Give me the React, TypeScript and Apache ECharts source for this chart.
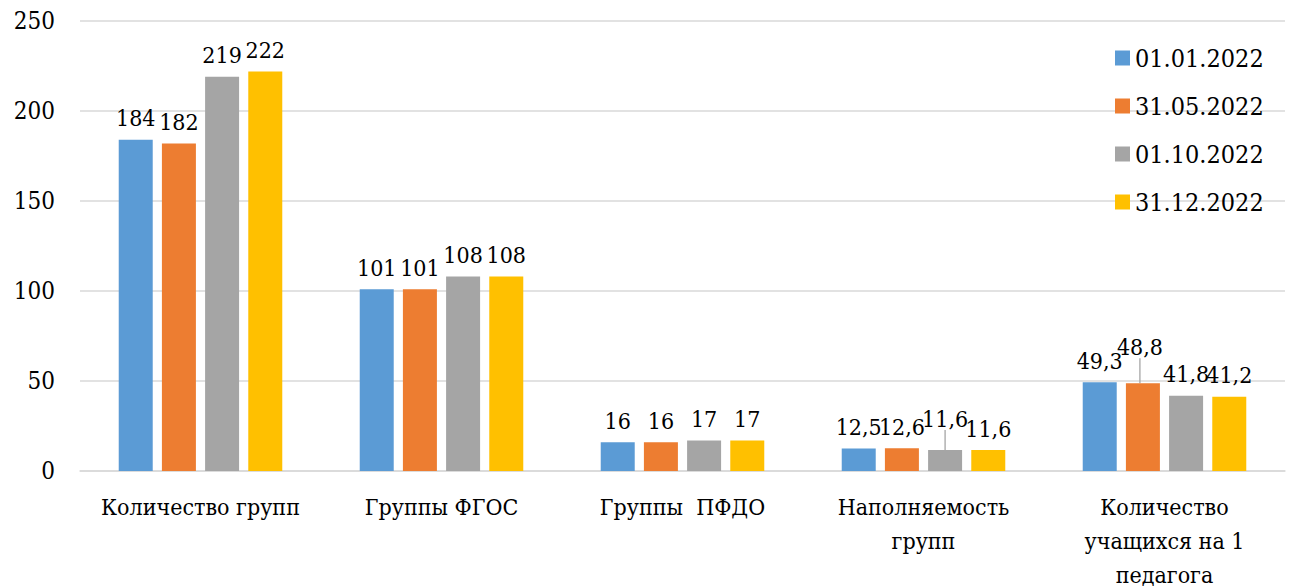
import React, { useEffect, useRef } from "react";
import * as echarts from "echarts";

const categories = [
  "Количество групп",
  "Группы ФГОС",
  "Группы  ПФДО",
  "Наполняемость\nгрупп",
  "Количество\nучащихся на 1\nпедагога",
];
const seriesNames = ["01.01.2022", "31.05.2022", "01.10.2022", "31.12.2022"];
const values0101 = [184, 101, 16, 12.5, 49.3];
const values3105 = [182, 101, 16, 12.6, 48.8];
const values0110 = [219, 108, 17, 11.6, 41.8];
const values3112 = [222, 108, 17, 11.6, 41.2];
const yTicks = { min: 0, max: 250, interval: 50 };

const colors = ["#5b9bd5", "#ed7d31", "#a5a5a5", "#ffc000"];
const FONT = "DejaVu Serif Condensed";

// labels shifted (with leader line) in the original: [seriesIndex, dataIndex, dx, dy]
const shifted: [number, number, number, number][] = [
  [1, 4, -3, -15],
  [2, 3, 0, -10],
];

export default function App() {
  const ref = useRef<HTMLDivElement>(null);
  useEffect(() => {
    if (!ref.current) return;
    const chart = echarts.init(ref.current, undefined, { renderer: "svg" });
    const all = [values0101, values3105, values0110, values3112];
    const series = all.map((vals, si) => ({
      name: seriesNames[si],
      type: "bar",
      barWidth: 34,
      barGap: "27%",
      itemStyle: { color: colors[si] },
      data: vals.map((v, di) => {
        const s = shifted.find((x) => x[0] === si && x[1] === di);
        return s ? { value: v, labelLine: { show: true } } : { value: v };
      }),
      label: {
        show: true,
        position: "top",
        distance: 10,
        color: "#000",
        fontFamily: FONT,
        fontSize: 23,
        formatter: (p: any) => String(p.value).replace(".", ","),
      },
      labelLine: {
        show: false,
        lineStyle: { color: "#a5a5a5", width: 1.3 },
      },
      labelLayout: (p: any) => {
        const s = shifted.find((x) => x[0] === si && x[1] === p.dataIndex);
        return s ? { dx: s[2], dy: s[3] } : {};
      },
    }));
    chart.setOption({
      animation: false,
      backgroundColor: "#fff",
      textStyle: { fontFamily: FONT },
      grid: {
        left: 80,
        right: 8,
        top: 21,
        bottom: 117,
        containLabel: false,
        outerBoundsMode: "none",
      },
      legend: {
        orient: "vertical",
        left: 1110,
        top: 40,
        itemWidth: 15,
        itemHeight: 15,
        itemGap: 22,
        icon: "rect",
        textStyle: { fontFamily: FONT, fontSize: 25, lineHeight: 26, color: "#000" },
        data: seriesNames,
      },
      xAxis: {
        type: "category",
        data: categories,
        axisLine: { show: true, lineStyle: { color: "#d9d9d9", width: 1.5 } },
        axisTick: { show: false },
        axisLabel: {
          interval: 0,
          margin: 19,
          color: "#000",
          fontFamily: FONT,
          fontSize: 23,
          lineHeight: 34,
        },
      },
      yAxis: {
        type: "value",
        min: yTicks.min,
        max: yTicks.max,
        interval: yTicks.interval,
        axisLine: { show: false },
        axisTick: { show: false },
        splitLine: { lineStyle: { color: "#d9d9d9", width: 1.5 } },
        axisLabel: { color: "#000", fontFamily: FONT, fontSize: 24, margin: 25 },
      },
      series,
    });
    return () => chart.dispose();
  }, []);
  return (
    <div
      ref={ref}
      style={{ position: "fixed", left: 0, top: 0, width: 1293, height: 588 }}
    />
  );
}
